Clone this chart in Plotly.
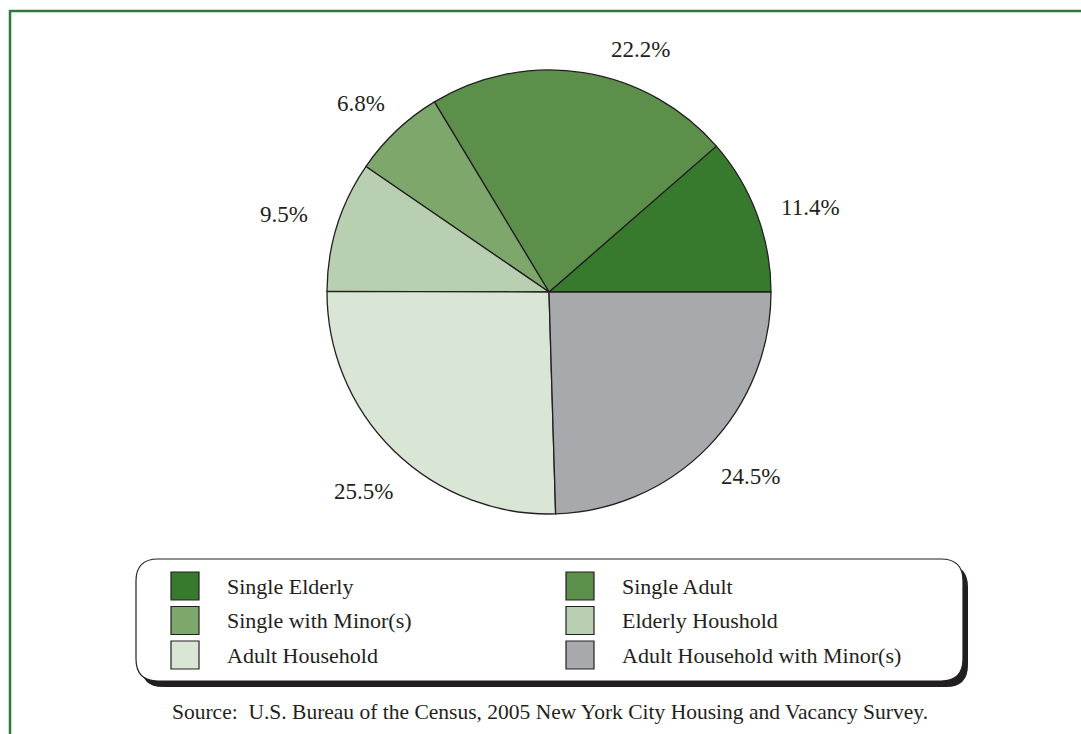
import math
import plotly.graph_objects as go

# Household composition shares (percent)
categories = ["Single Elderly", "Single Adult", "Single with Minor(s)",
              "Elderly Houshold", "Adult Household", "Adult Household with Minor(s)"]
shares = [11.4, 22.2, 6.8, 9.5, 25.5, 24.5]
colors = ["#377a2d", "#5b8f4a", "#7ea76c", "#b9cfb1", "#d9e5d5", "#a7a9ac"]

W, H = 1081, 734
FONT = "Liberation Serif, Times New Roman, serif"
INK = "#231f20"

# Pie placement in pixels
cx, cy, r = 549, 292, 222

def px(x):
    return x / W

def py(y):
    return 1 - y / H

total = sum(shares)
first_span = shares[0] / total * 360

fig = go.Figure(go.Pie(
    labels=categories,
    values=shares,
    sort=False,
    direction="counterclockwise",
    # first slice begins at 3 o'clock and runs counterclockwise
    rotation=90 - first_span,
    marker=dict(colors=colors, line=dict(color=INK, width=1.3)),
    textinfo="none",
    hoverinfo="label+value",
    showlegend=False,
    domain=dict(x=[px(cx - r), px(cx + r)], y=[py(cy + r), py(cy - r)]),
))

# Percentage labels around the pie, near each slice's mid-angle
label_radius = [275, 259, 266, 276, 272, 273]
label_shift_deg = [-2.7, -11.8, 1.6, 0.9, 1.3, 1.7]
start = 0.0
annotations = []
for val, shift, lr in zip(shares, label_shift_deg, label_radius):
    span = val / total * 360
    mid = math.radians(start + span / 2 + shift)
    start += span
    annotations.append(dict(
        x=px(cx + lr * math.cos(mid)),
        y=py(cy - lr * math.sin(mid)),
        xref="paper", yref="paper", showarrow=False,
        text=f"{val:.1f}%",
        font=dict(family=FONT, size=23, color=INK),
        xanchor="center", yanchor="middle",
    ))

shapes = []

# Page frame (left and top edges)
shapes.append(dict(type="line", xref="paper", yref="paper",
                   x0=px(10), x1=px(10), y0=py(10), y1=0,
                   line=dict(color="#2e7b38", width=2.5)))
shapes.append(dict(type="line", xref="paper", yref="paper",
                   x0=px(10), x1=1, y0=py(11), y1=py(11),
                   line=dict(color="#2e7b38", width=2.5)))

# Legend box with drop shadow
def rounded_path(x0, y0, x1, y1, rad):
    return (f"M {px(x0 + rad)},{py(y0)} L {px(x1 - rad)},{py(y0)} "
            f"Q {px(x1)},{py(y0)} {px(x1)},{py(y0 + rad)} "
            f"L {px(x1)},{py(y1 - rad)} Q {px(x1)},{py(y1)} {px(x1 - rad)},{py(y1)} "
            f"L {px(x0 + rad)},{py(y1)} Q {px(x0)},{py(y1)} {px(x0)},{py(y1 - rad)} "
            f"L {px(x0)},{py(y0 + rad)} Q {px(x0)},{py(y0)} {px(x0 + rad)},{py(y0)} Z")

lx0, ly0, lx1, ly1 = 136, 559, 963, 681
shapes.append(dict(type="path", xref="paper", yref="paper",
                   path=rounded_path(lx0 + 5, ly0 + 6, lx1 + 5, ly1 + 6, 22),
                   fillcolor=INK, line=dict(width=0)))
shapes.append(dict(type="path", xref="paper", yref="paper",
                   path=rounded_path(lx0, ly0, lx1, ly1, 22),
                   fillcolor="white", line=dict(color=INK, width=1.2)))

# Legend entries: two columns, three rows
col_x = [171, 566]
row_y = [572, 606.5, 641]
sw = 28
for i, (name, col) in enumerate(zip(categories, colors)):
    c, rr = i % 2, i // 2
    x0, y0 = col_x[c], row_y[rr]
    shapes.append(dict(type="rect", xref="paper", yref="paper",
                       x0=px(x0), x1=px(x0 + sw), y0=py(y0), y1=py(y0 + sw),
                       fillcolor=col, line=dict(color=INK, width=1.2)))
    annotations.append(dict(
        x=px(x0 + sw + 26), y=py(y0 + sw / 2), xref="paper", yref="paper",
        showarrow=False, text=name, xanchor="left", yanchor="middle",
        font=dict(family=FONT, size=22, color=INK),
    ))

# Source note
annotations.append(dict(
    x=px(550), y=py(712), xref="paper", yref="paper", showarrow=False,
    text="Source:  U.S. Bureau of the Census, 2005 New York City Housing and Vacancy Survey.",
    xanchor="center", yanchor="middle",
    font=dict(family=FONT, size=21.5, color=INK),
))

fig.update_layout(
    width=W, height=H,
    margin=dict(l=0, r=0, t=0, b=0),
    paper_bgcolor="white",
    plot_bgcolor="white",
    shapes=shapes,
    annotations=annotations,
    showlegend=False,
)

fig.write_html("out.html")
